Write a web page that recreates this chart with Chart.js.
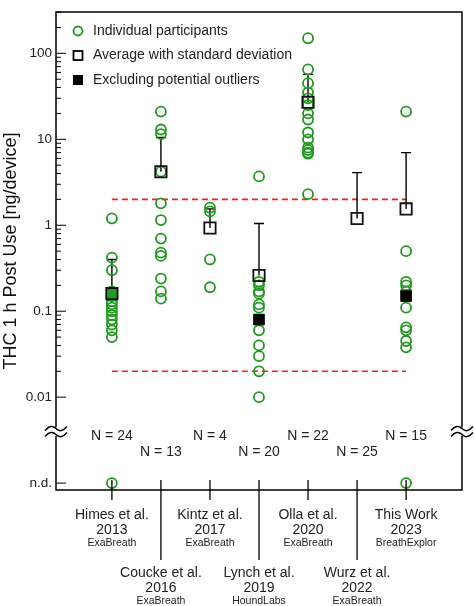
<!DOCTYPE html>
<html><head><meta charset="utf-8">
<script src="https://cdn.jsdelivr.net/npm/chart.js@4"></script>
<style>body{margin:0;background:#fff}#wrap{width:475px;height:606px}</style>
</head><body><div id="wrap"><canvas id="c"></canvas></div>
<script>
var studies = ['Himes et al.|2013|ExaBreath','Coucke et al.|2016|ExaBreath','Kintz et al.|2017|ExaBreath',
  'Lynch et al.|2019|HoundLabs','Olla et al.|2020|ExaBreath','Wurz et al.|2022|ExaBreath','This Work|2023|BreathExplor'];
var counts = [24, 13, 4, 20, 22, 25, 15];
var individual = [
  [1.2, 0.42, 0.3, 0.17, 0.15, 0.13, 0.12, 0.11, 0.1, 0.09, 0.08, 0.07, 0.06, 0.05, 'nd'],
  [21, 13, 11.5, 4.2, 1.8, 1.15, 0.7, 0.48, 0.44, 0.24, 0.17, 0.14],
  [1.6, 1.45, 0.4, 0.19],
  [3.7, 0.22, 0.2, 0.17, 0.16, 0.12, 0.11, 0.06, 0.04, 0.03, 0.02, 0.01],
  [150, 65, 45, 35, 30, 25, 20, 17, 12, 10, 8, 7.5, 7, 6.8, 2.3],
  [],
  [21, 0.5, 0.22, 0.2, 0.17, 0.11, 0.065, 0.06, 0.045, 0.038, 'nd']
];
var averages = [0.16, 4.2, 0.93, 0.26, 27, 1.2, 1.55];
var sdTops = [0.4, 10.5, 1.55, 1.05, 57, 4.1, 7];
var excluded = [[0, 0.16], [3, 0.08], [6, 0.15]];
var limits = [2, 0.02];
var yTicks = [2, 1, 0, -1, -2, -3];
var yLabels = {'2':'100','1':'10','0':'1','-1':'0.1','-2':'0.01','-3':'n.d.'};

var GREEN = '#1f9a1f';
var FONT = 'Arial, "Liberation Sans", sans-serif';
function ly(v){ return v === 'nd' ? -3 : Math.log10(v); }

var pts = [];
individual.forEach(function(arr, i){ arr.forEach(function(v){ pts.push({x:i, y:ly(v)}); }); });

var overlay = {
  id:'overlay',
  beforeDatasetsDraw: function(ch){
    var c = ch.ctx, xs = ch.scales.x, ys = ch.scales.y;
    c.save();
    c.strokeStyle = '#ff1a1a'; c.lineWidth = 1.6; c.setLineDash([6,4]);
    limits.forEach(function(l){
      c.beginPath(); c.moveTo(xs.getPixelForValue(0), ys.getPixelForValue(ly(l)));
      c.lineTo(xs.getPixelForValue(6), ys.getPixelForValue(ly(l))); c.stroke();
    });
    c.setLineDash([]);
    c.strokeStyle = '#000'; c.lineWidth = 1.4;
    averages.forEach(function(m, i){
      var px = xs.getPixelForValue(i), y0 = ys.getPixelForValue(ly(m)), y1 = ys.getPixelForValue(ly(sdTops[i]));
      c.beginPath(); c.moveTo(px, y0); c.lineTo(px, y1); c.moveTo(px-5, y1); c.lineTo(px+5, y1); c.stroke();
    });
    c.restore();
  },
  afterDraw: function(ch){
    var c = ch.ctx, xs = ch.scales.x, ys = ch.scales.y, a = ch.chartArea;
    var brk = ys.getPixelForValue(-2.4);
    c.save();
    c.strokeStyle = '#000'; c.lineWidth = 1.5;
    c.beginPath();
    c.moveTo(a.left, brk-4); c.lineTo(a.left, a.top); c.lineTo(a.right, a.top); c.lineTo(a.right, brk-4);
    c.moveTo(a.left, brk+4); c.lineTo(a.left, a.bottom); c.lineTo(a.right, a.bottom); c.lineTo(a.right, brk+4);
    c.stroke();
    [a.left, a.right].forEach(function(x){
      c.fillStyle = '#fff'; c.fillRect(x-3, brk-4, 6, 8);
      c.beginPath();
      [-3, 3].forEach(function(d){
        c.moveTo(x-11, brk+d+2); c.quadraticCurveTo(x-5, brk+d-5, x, brk+d); c.quadraticCurveTo(x+5, brk+d+5, x+11, brk+d-2);
      });
      c.stroke();
    });
    c.lineWidth = 1;
    for (var d = -2; d <= 2; d++) {
      for (var k = 1; k <= 9; k++) {
        var v = d + Math.log10(k);
        if (v > ys.max) break;
        var py = ys.getPixelForValue(v);
        c.beginPath(); c.moveTo(a.left, py); c.lineTo(a.left + (k === 1 ? 10 : 5), py); c.stroke();
      }
    }
    c.beginPath(); c.moveTo(a.left, ys.getPixelForValue(-3)); c.lineTo(a.left+10, ys.getPixelForValue(-3)); c.stroke();
    c.fillStyle = '#222'; c.textAlign = 'center';
    studies.forEach(function(s, i){
      var px = xs.getPixelForValue(i), low = i % 2 === 1;
      c.lineWidth = 1.3;
      c.beginPath(); c.moveTo(px, a.bottom - 10); c.lineTo(px, a.bottom + (low ? 70 : 10)); c.stroke();
      var p = s.split('|'), ty = a.bottom + (low ? 87 : 29);
      c.font = '14px ' + FONT;
      c.fillText(p[0], px, ty); c.fillText(p[1], px, ty + 15);
      c.font = '10.5px ' + FONT;
      c.fillText(p[2], px, ty + 27);
      c.font = '14px ' + FONT;
      c.fillText('N = ' + counts[i], px, ys.getPixelForValue(low ? -2.69 : -2.5));
    });
    c.textAlign = 'left'; c.textBaseline = 'middle'; c.font = '14px ' + FONT;
    var lx = a.left + 22, items = ['Individual participants', 'Average with standard deviation', 'Excluding potential outliers'];
    items.forEach(function(t, j){
      var yy = 31 + j * 24.5;
      c.lineWidth = 1.8;
      if (j === 0) { c.strokeStyle = GREEN; c.beginPath(); c.arc(lx, yy, 4.5, 0, 2*Math.PI); c.stroke(); }
      else if (j === 1) { c.strokeStyle = '#000'; c.strokeRect(lx-4.5, yy-4.5, 9, 9); }
      else { c.fillStyle = '#000'; c.fillRect(lx-5, yy-5, 10, 10); }
      c.fillStyle = '#222'; c.fillText(t, lx + 15, yy);
    });
    c.restore();
  }
};

new Chart(document.getElementById('c'), {
  type: 'scatter',
  data: {
    datasets: [
      { data: pts, pointStyle: 'circle', pointRadius: 5, borderColor: GREEN, borderWidth: 1.8, backgroundColor: 'rgba(0,0,0,0)', order: 3 },
      { data: averages.map(function(m, i){ return {x:i, y:ly(m)}; }), pointStyle: 'rect', pointRadius: 8,
        borderColor: '#111', borderWidth: 1.8, backgroundColor: 'rgba(255,255,255,0)', order: 2 },
      { data: excluded.map(function(e){ return {x:e[0], y:ly(e[1])}; }), pointStyle: 'rect', pointRadius: 7.5,
        borderColor: '#000', borderWidth: 1,
        backgroundColor: excluded.map(function(e){ return e[0] === 0 ? GREEN : '#000'; }), order: 1 }
    ]
  },
  options: {
    responsive: true, maintainAspectRatio: false, animation: false,
    layout: { padding: { top: 6, right: 13, bottom: 116, left: 0 } },
    plugins: { legend: { display: false }, tooltip: { enabled: false } },
    scales: {
      x: { type: 'linear', min: -1.14, max: 7.14, display: false },
      y: {
        type: 'linear', min: -3.08, max: 2.48,
        afterBuildTicks: function(s){ s.ticks = yTicks.map(function(v){ return {value:v}; }); },
        afterFit: function(s){ s.width = 56; },
        grid: { display: false, drawTicks: false },
        border: { display: false },
        ticks: { padding: 4, color: '#222', font: { size: 13.5, family: FONT },
          callback: function(v){ return yLabels[String(v)]; } },
        title: { display: true, text: 'THC 1 h Post Use [ng/device]', color: '#111', padding: 0,
          font: { size: 18, family: FONT } }
      }
    }
  },
  plugins: [overlay]
});
</script></body></html>
